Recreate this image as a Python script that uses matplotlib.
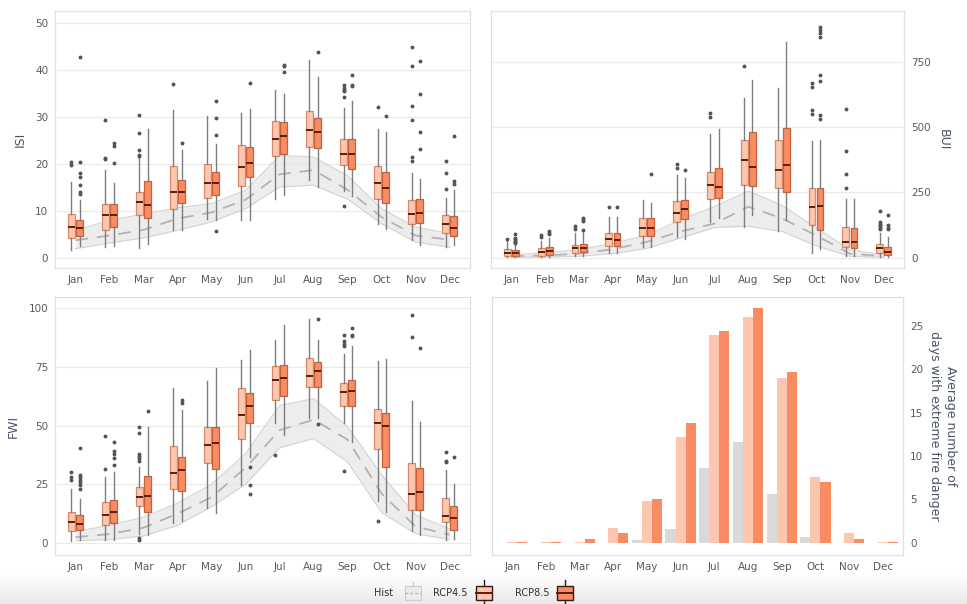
import numpy as np
import matplotlib.pyplot as plt
from matplotlib.patches import Rectangle
from matplotlib.colors import LinearSegmentedColormap

months = ["Jan", "Feb", "Mar", "Apr", "May", "Jun",
          "Jul", "Aug", "Sep", "Oct", "Nov", "Dec"]

# box stats per month: (lower whisker, q1, median, q3, upper whisker)
isi_rcp45 = [(1.8, 4.3, 6.7, 9.4, 16.2), (2.3, 5.9, 9.1, 11.4, 18.8),
             (2.2, 9.1, 12.0, 14.0, 21.3), (5.9, 10.5, 14.0, 19.6, 31.4),
             (8.4, 12.8, 16.0, 19.9, 30.1), (8.0, 15.4, 19.4, 24.1, 30.9),
             (12.6, 21.6, 25.2, 29.1, 35.7), (16.5, 23.5, 27.2, 31.3, 42.1),
             (14.3, 19.7, 22.1, 25.2, 31.9), (7.2, 12.6, 16.0, 19.6, 27.5),
             (3.9, 7.2, 9.3, 12.4, 18.1), (2.3, 5.4, 7.3, 9.1, 12.8)]
isi_rcp45_out = [[20.5, 19.8], [29.3, 21.3, 21.1], [30.3, 26.5, 23.0, 22.0, 21.7],
                 [36.9], [], [], [], [], [36.8, 36.2, 35.7, 35.5, 34.3, 11.1],
                 [32.1], [44.9, 40.8, 32.4, 29.3, 21.4, 20.6], [20.6, 18.0, 14.7]]
isi_rcp85 = [(2.5, 4.8, 6.4, 8.2, 12.3), (2.5, 6.6, 9.2, 11.4, 16.0),
             (3.0, 8.6, 11.3, 16.4, 27.5), (6.0, 11.8, 14.0, 16.7, 22.9),
             (8.0, 13.5, 16.0, 18.4, 24.3), (8.0, 17.2, 20.3, 23.6, 31.6),
             (13.5, 22.1, 25.9, 28.9, 34.8), (15.1, 23.3, 26.8, 29.7, 38.5),
             (13.3, 19.0, 22.1, 25.2, 33.4), (6.2, 11.8, 14.9, 18.3, 26.7),
             (2.7, 7.5, 9.6, 12.5, 16.9), (2.7, 4.6, 6.4, 8.9, 14.5)]
isi_rcp85_out = [[42.7, 20.5, 18.0, 17.3, 15.5, 14.0, 13.7], [24.5, 23.8, 20.3], [],
                 [24.5], [33.3, 29.8, 26.2, 5.8], [37.1], [41.0, 40.8, 39.6], [43.7],
                 [38.9, 36.7, 36.5], [30.2], [41.8, 34.8, 26.7, 23.1], [25.9, 16.4, 15.8]]
isi_hist_lo = [2.0, 3.2, 4.3, 5.9, 7.7, 10.5, 15.1, 15.5, 12.5, 7.3, 3.4, 2.3]
isi_hist_med = [3.8, 4.8, 6.0, 8.4, 9.7, 12.4, 17.8, 18.7, 14.5, 8.7, 4.8, 3.9]
isi_hist_hi = [5.9, 8.0, 9.4, 10.7, 11.6, 14.4, 21.8, 21.5, 17.5, 10.5, 6.6, 5.2]

bui_rcp45 = [(1, 6, 19, 32, 62), (1, 6, 20, 36, 62), (5, 17, 36, 49, 94),
             (19, 46, 72, 94, 155), (42, 83, 115, 151, 219), (78, 135, 171, 217, 318),
             (138, 226, 277, 328, 474), (119, 279, 372, 449, 613), (100, 267, 337, 449, 651),
             (17, 123, 194, 267, 446), (6, 42, 59, 119, 226), (3, 19, 36, 51, 94)]
bui_rcp45_out = [[70], [85, 80], [120, 110], [195], [], [360, 345], [555, 540], [735], [],
                 [670, 655, 565, 550], [570, 410, 320, 265],
                 [180, 135, 130, 125, 120, 115, 110]]
bui_rcp85 = [(1, 6, 17, 29, 49), (2, 9, 24, 40, 74), (5, 20, 36, 53, 100),
             (18, 46, 68, 94, 155), (40, 81, 113, 151, 209), (71, 147, 186, 219, 305),
             (151, 228, 271, 344, 491), (164, 276, 347, 482, 679), (145, 251, 356, 495, 827),
             (32, 104, 196, 267, 452), (6, 36, 58, 113, 226), (2, 10, 23, 42, 78)]
bui_rcp85_out = [[90, 75, 70, 65, 60, 55], [100, 95, 90], [150, 145, 140, 105], [195],
                 [320], [335], [], [], [], [885, 872, 860, 845, 700, 675, 545, 530], [],
                 [165, 125, 115, 110]]
bui_hist_lo = [1, 2, 5, 15, 35, 75, 115, 120, 100, 45, 5, 1]
bui_hist_med = [5, 8, 15, 32, 60, 100, 130, 195, 150, 85, 15, 5]
bui_hist_hi = [10, 18, 30, 55, 85, 145, 195, 255, 200, 115, 30, 10]

fwi_rcp45 = [(0.7, 5.1, 8.8, 13.0, 22.9), (1.4, 7.8, 12.0, 17.3, 28.0),
             (4.0, 15.8, 19.8, 23.8, 32.5), (8.5, 23.1, 29.7, 41.3, 65.8),
             (14.9, 33.9, 41.7, 49.5, 69.0), (24.8, 44.3, 54.5, 65.8, 77.8),
             (50.9, 60.8, 69.3, 75.2, 86.3), (53.0, 66.5, 71.0, 78.8, 95.5),
             (50.9, 58.3, 64.1, 68.3, 80.6), (17.7, 39.9, 51.2, 56.9, 77.5),
             (5.0, 14.1, 20.9, 33.9, 60.5), (1.1, 8.8, 11.7, 19.1, 31.1)]
fwi_rcp45_out = [[30.3, 28.0, 27.0], [45.5, 31.4],
                 [49.5, 47.0, 38.0, 37.0, 36.0, 35.0, 2.2, 1.1], [], [], [], [37.5], [],
                 [88.5, 86.0, 84.5, 83.8, 30.7], [9.5], [97.2, 87.8], [38.8, 34.9, 34.5]]
fwi_rcp85 = [(1.4, 5.7, 8.1, 12.0, 18.7), (1.1, 8.5, 13.3, 18.1, 30.4),
             (3.5, 13.0, 20.1, 28.7, 49.5), (9.2, 22.3, 31.0, 36.8, 56.6),
             (12.7, 31.4, 42.4, 49.5, 74.5), (36.8, 51.2, 58.4, 63.9, 82.0),
             (46.0, 62.5, 70.4, 75.7, 92.9), (53.0, 66.5, 73.1, 77.1, 86.6),
             (43.1, 58.3, 64.6, 69.3, 83.7), (13.0, 32.5, 49.8, 55.4, 78.5),
             (3.5, 14.1, 21.9, 31.8, 51.6), (1.7, 5.7, 10.5, 15.8, 25.0)]
fwi_rcp85_out = [[40.5, 29.0, 28.0, 27.0, 26.0, 24.5, 23.0], [42.8, 39.0, 38.0, 36.0, 33.0],
                 [56.0], [61.0, 59.5], [], [32.3, 24.9, 20.8], [], [95.3, 50.5],
                 [91.5, 88.5, 88.0], [], [83.0], [36.6]]
fwi_hist_lo = [1.0, 1.5, 3.0, 7.5, 15.5, 25.0, 40.5, 44.5, 34.5, 13.0, 4.0, 1.5]
fwi_hist_med = [2.5, 3.8, 6.5, 12.5, 19.5, 32.0, 48.0, 52.5, 44.0, 21.0, 7.0, 3.5]
fwi_hist_hi = [5.0, 7.5, 11.0, 17.0, 25.0, 38.0, 58.5, 61.5, 49.5, 29.0, 12.0, 6.0]

# average number of days with extreme fire danger
days_hist = [0, 0, 0, 0, 0.3, 1.6, 8.6, 11.6, 5.6, 0.7, 0, 0]
days_rcp45 = [0.05, 0.05, 0.1, 1.7, 4.8, 12.2, 23.9, 26.0, 19.0, 7.6, 1.1, 0.05]
days_rcp85 = [0.05, 0.15, 0.4, 1.1, 5.0, 13.8, 24.4, 27.0, 19.7, 7.0, 0.5, 0.05]

c_hist = "#d9d9d9"
c45 = "#fcc6af"
c85 = "#fa8c63"
c45_edge = "#d98a6c"
c85_edge = "#c8603a"
txt_col = "#5a5a5a"
lab_col = "#4b5566"

x = np.arange(1, 13)

fig = plt.figure(figsize=(9.67, 6.04), dpi=100)
fig.patch.set_facecolor("white")

# light grey band along the bottom edge
bg = fig.add_axes([0, 0, 1, 1], zorder=-5)
bg.set_xlim(0, 967)
bg.set_ylim(604, 0)
bg.axis("off")
grad = np.linspace(0, 1, 50).reshape(-1, 1)
band = LinearSegmentedColormap.from_list("band", ["#ffffff", "#e9e9e9"])
bg.imshow(grad, extent=(0, 967, 604, 574), cmap=band, aspect="auto", origin="upper")


def style(ax, ylim, ticks, right=False):
    ax.set_xlim(0.4, 12.6)
    ax.set_ylim(*ylim)
    ax.set_xticks(x)
    ax.set_xticklabels(months)
    ax.set_yticks(ticks)
    ax.tick_params(length=0, labelsize=7.5, colors=txt_col, pad=5)
    ax.grid(axis="y", color="#ebebeb", linewidth=0.9)
    ax.set_axisbelow(True)
    for s in ax.spines.values():
        s.set_color("#e0e0e0")
        s.set_linewidth(0.9)
    if right:
        ax.yaxis.tick_right()
        ax.yaxis.set_label_position("right")


def boxes(ax, st45, out45, st85, out85, lo, med, hi):
    # historical range as a band with a dashed median
    ax.fill_between(x, lo, hi, color="#e6e6e6", alpha=0.7, lw=0, zorder=1)
    ax.plot(x, lo, color="#d3d3d3", lw=0.8, zorder=1.2)
    ax.plot(x, hi, color="#d3d3d3", lw=0.8, zorder=1.2)
    ax.plot(x, med, color="#b3b3b3", lw=1.3, ls=(0, (7, 5)), zorder=1.3)
    for st, out, off, fc, ec in [(st45, out45, -0.12, c45, c45_edge),
                                 (st85, out85, 0.12, c85, c85_edge)]:
        stats = []
        for s, o in zip(st, out):
            stats.append(dict(whislo=s[0], q1=s[1], med=s[2], q3=s[3],
                              whishi=s[4], fliers=o))
        ax.bxp(stats, positions=x + off, widths=0.2, patch_artist=True,
               showcaps=False, manage_ticks=False,
               boxprops=dict(facecolor=fc, edgecolor=ec, linewidth=0.9),
               whiskerprops=dict(color="#7d7d7d", linewidth=1.0),
               medianprops=dict(color="#5a1d0a", linewidth=1.4),
               flierprops=dict(marker="o", markersize=1.8, markerfacecolor="#555555",
                               markeredgecolor="#555555"),
               zorder=3)


ax1 = fig.add_axes([0.0569, 0.5563, 0.4292, 0.4255])
boxes(ax1, isi_rcp45, isi_rcp45_out, isi_rcp85, isi_rcp85_out,
      isi_hist_lo, isi_hist_med, isi_hist_hi)
style(ax1, (-2.1, 52.5), [0, 10, 20, 30, 40, 50])
ax1.set_ylabel("ISI", fontsize=9, color=lab_col, labelpad=6)

ax2 = fig.add_axes([0.5078, 0.5563, 0.4271, 0.4255])
boxes(ax2, bui_rcp45, bui_rcp45_out, bui_rcp85, bui_rcp85_out,
      bui_hist_lo, bui_hist_med, bui_hist_hi)
style(ax2, (-40, 945), [0, 250, 500, 750], right=True)
ax2.set_ylabel("BUI", fontsize=9, color=lab_col, rotation=270, labelpad=14)

ax3 = fig.add_axes([0.0569, 0.0811, 0.4292, 0.4272])
boxes(ax3, fwi_rcp45, fwi_rcp45_out, fwi_rcp85, fwi_rcp85_out,
      fwi_hist_lo, fwi_hist_med, fwi_hist_hi)
style(ax3, (-5.1, 104.7), [0, 25, 50, 75, 100])
ax3.set_ylabel("FWI", fontsize=9, color=lab_col, labelpad=6)

ax4 = fig.add_axes([0.5088, 0.0811, 0.425, 0.4272])
bw = 0.3
ax4.bar(x - bw, days_hist, width=bw, color=c_hist, zorder=2)
ax4.bar(x, days_rcp45, width=bw, color=c45, zorder=2)
ax4.bar(x + bw, days_rcp85, width=bw, color=c85, zorder=2)
style(ax4, (-1.4, 28.3), [0, 5, 10, 15, 20, 25], right=True)
ax4.grid(False)
ax4.set_ylabel("Average number of\ndays with extreme fire danger", fontsize=9,
               color=lab_col, rotation=270, labelpad=24, linespacing=1.3)

# legend keys along the bottom
ly = 593
bg.text(393, ly, "Hist", fontsize=7, color="#333333", ha="right", va="center")
bg.add_patch(Rectangle((405, ly - 7), 16, 14, facecolor="#ececec",
                       edgecolor="#cccccc", lw=0.8))
bg.plot([405, 421], [ly, ly], color="#b5b5b5", lw=1, ls=(0, (2, 1.5)))
bg.plot([413, 413], [ly - 11, ly - 7], color="#cccccc", lw=0.8)
for tx, lab, fc, ec in [(468, "RCP4.5", c45, c45_edge), (549, "RCP8.5", c85, c85_edge)]:
    bg.text(tx, ly, lab, fontsize=7, color="#333333", ha="right", va="center")
    x0 = tx + 8
    bg.plot([x0 + 8, x0 + 8], [ly - 13, ly - 7], color="#222222", lw=1.0)
    bg.plot([x0 + 8, x0 + 8], [ly + 7, ly + 10], color="#222222", lw=1.0)
    bg.add_patch(Rectangle((x0, ly - 7), 16, 14, facecolor=fc, edgecolor="#3a1a10", lw=1.0))
    bg.plot([x0, x0 + 16], [ly, ly], color="#5a1d0a", lw=1.4)

fig.savefig("out.png", dpi=100)
